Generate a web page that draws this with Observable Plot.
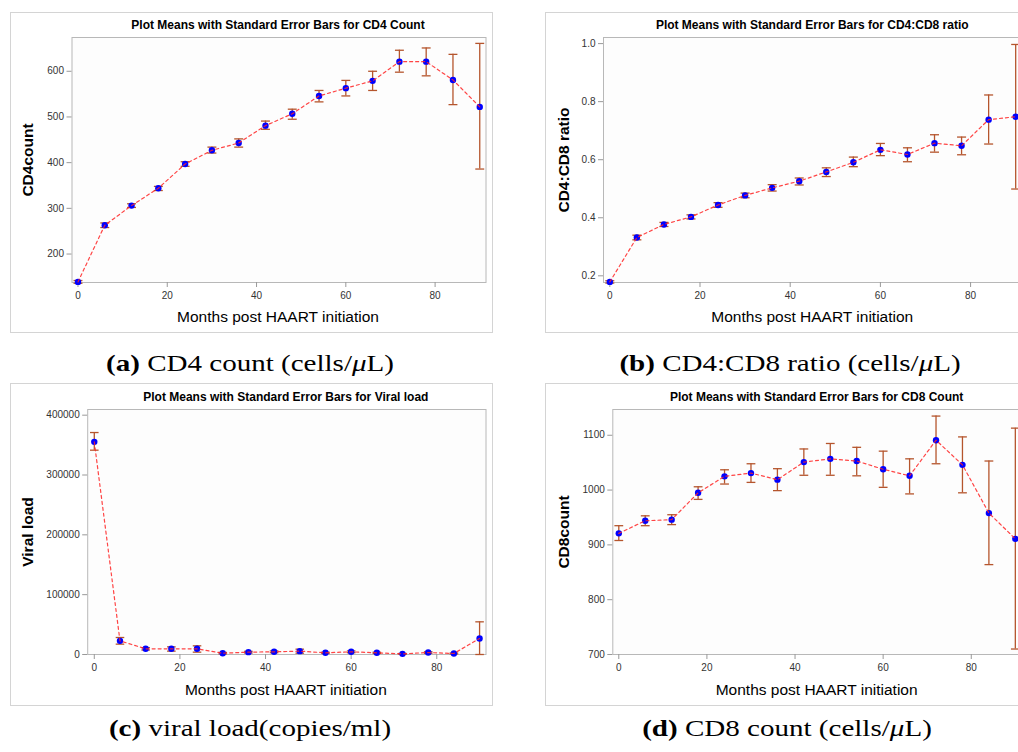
<!DOCTYPE html>
<html><head><meta charset="utf-8">
<script src="https://cdn.jsdelivr.net/npm/d3@7"></script>
<script src="https://cdn.jsdelivr.net/npm/@observablehq/plot@0.6"></script>
<style>
html,body{margin:0;padding:0;background:#fff;}
#root{position:relative;width:1018px;height:752px;overflow:hidden;background:#fff;}
.box{position:absolute;border:1px solid #d4d4d4;box-sizing:border-box;background:#fff;}
.plot{position:absolute;}
.title{position:absolute;width:500px;font:bold 12px/12px "Liberation Sans",Arial,sans-serif;color:#000;text-align:center;white-space:nowrap;}
.xlab{position:absolute;width:400px;font:15.5px/15.5px "Liberation Sans",Arial,sans-serif;color:#000;text-align:center;white-space:nowrap;}
.ylab{position:absolute;font:bold 15.5px/15.5px "Liberation Sans",Arial,sans-serif;color:#000;white-space:nowrap;transform:translate(-50%,-50%) rotate(-90deg);}
.cap{position:absolute;font:24px/24px "Liberation Serif",serif;color:#000;white-space:nowrap;transform:translateX(-50%) scaleX(1.21);}
</style>
</head><body><div id="root"></div>
<script>
// ---- data ----
const months = [0,6,12,18,24,30,36,42,48,54,60,66,72,78,84,90];
const xTicks = [0,20,40,60,80];

const cd4Mean = [139,263,306,344,397,427,443,481,507,546,563,579,621,621,581,522];
const cd4Lo   = [136,258,302,339,392,421,434,473,495,533,546,558,598,590,527,386];
const cd4Hi   = [142,268,310,348,402,434,452,491,517,558,580,600,646,651,637,661];
const cd4Ticks = [200,300,400,500,600];

const ratioMean = [0.179,0.332,0.377,0.403,0.444,0.477,0.503,0.526,0.558,0.591,0.634,0.618,0.657,0.648,0.738,0.748];
const ratioLo   = [0.175,0.324,0.370,0.396,0.436,0.469,0.492,0.513,0.542,0.576,0.614,0.593,0.626,0.617,0.654,0.499];
const ratioHi   = [0.183,0.340,0.384,0.410,0.452,0.485,0.514,0.537,0.572,0.609,0.656,0.641,0.686,0.678,0.823,0.997];
const ratioTicks = [0.2,0.4,0.6,0.8,1.0];

const vlMean = [355400,22800,9500,9500,9500,2200,3900,4500,5600,2800,4500,2800,1100,3300,1700,26700];
const vlLo   = [341500,17300,7500,5600,3900,1000,2500,3000,2200,1800,3000,1800,500,2000,900,0];
const vlHi   = [371000,28400,11500,12800,14500,3400,5300,6000,8900,3800,6000,3800,1700,4600,2500,54600];
const vlTicks = [0,100000,200000,300000,400000];

const cd8Mean = [921,944,946,995,1025,1031,1019,1051,1057,1053,1038,1026,1091,1046,958,911];
const cd8Lo   = [908,935,937,983,1011,1014,999,1027,1027,1026,1005,993,1048,995,864,710];
const cd8Hi   = [935,953,955,1006,1037,1048,1039,1075,1085,1078,1071,1057,1135,1097,1053,1113];
const cd8Ticks = [700,800,900,1000,1100];

const titles = [
  "Plot Means with Standard Error Bars for CD4 Count",
  "Plot Means with Standard Error Bars for CD4:CD8 ratio",
  "Plot Means with Standard Error Bars for Viral load",
  "Plot Means with Standard Error Bars for CD8 Count"
];
const yLabels = ["CD4count","CD4:CD8 ratio","Viral load","CD8count"];
const xLabel = "Months post HAART initiation";
const captionTags = ["(a)","(b)","(c)","(d)"];
const captionTexts = [
  " CD4 count (cells/<i>μ</i>L)",
  " CD4:CD8 ratio (cells/<i>μ</i>L)",
  " viral load(copies/ml)",
  " CD8 count (cells/<i>μ</i>L)"
];

// ---- layout ----
const panels = [
  {left:9.5, top:12, w:483.5, h:321, ml:61.5, mr:8, mt:25, mb:51, xdom:[-1.34,91.4], ydom:[137.7,673.9],
   mean:cd4Mean, lo:cd4Lo, hi:cd4Hi, ticks:cd4Ticks, fmt:d3.format("d"),
   titleY:19.3, xlabY:308.6, ylabX:28, capX:250, capY:351},
  {left:545, top:12, w:483.5, h:321, ml:58, mr:7, mt:25, mb:51, xdom:[-1.4,91.4], ydom:[0.177,1.021],
   mean:ratioMean, lo:ratioLo, hi:ratioHi, ticks:ratioTicks, fmt:d3.format(".1f"),
   titleY:19.3, xlabY:308.6, ylabX:564, capX:790, capY:351},
  {left:9.5, top:383.3, w:483.5, h:323, ml:77.2, mr:8, mt:26, mb:52, xdom:[-1.54,91.5], ydom:[0,409500],
   mean:vlMean, lo:vlLo, hi:vlHi, ticks:vlTicks, fmt:d3.format("d"),
   titleY:391.3, xlabY:681.9, ylabX:28, capX:250, capY:716},
  {left:545, top:383.3, w:483.5, h:323, ml:67.3, mr:7.5, mt:26, mb:52, xdom:[-1.36,91.4], ydom:[700,1147],
   mean:cd8Mean, lo:cd8Lo, hi:cd8Hi, ticks:cd8Ticks, fmt:d3.format("d"),
   titleY:391.3, xlabY:681.9, ylabX:564, capX:787, capY:716}
];

const root = document.getElementById("root");
const ebColor = "#b5552d";

panels.forEach((p, i) => {
  const rows = months.map((m, k) => ({m, mean: p.mean[k], lo: p.lo[k], hi: p.hi[k]}));
  const box = document.createElement("div");
  box.className = "box";
  Object.assign(box.style, {left: p.left + "px", top: p.top + "px", width: p.w + "px", height: p.h + "px"});
  root.appendChild(box);

  const chart = Plot.plot({
    width: p.w, height: p.h,
    marginLeft: p.ml, marginRight: p.mr, marginTop: p.mt, marginBottom: p.mb,
    x: {domain: p.xdom},
    y: {domain: p.ydom},
    style: {fontFamily: "Liberation Sans, Arial, sans-serif", fontSize: "10px", background: "transparent", overflow: "visible"},
    marks: [
      Plot.frame({fill: "#fdfdfd", stroke: "#b8b8b8"}),
      Plot.axisX({ticks: xTicks, tickSize: 5, tickPadding: 4, label: null, stroke: "#999", fill: "#333"}),
      Plot.axisY({ticks: p.ticks, tickSize: 5, tickPadding: 3, label: null, tickFormat: p.fmt, stroke: "#999", fill: "#333"}),
      Plot.ruleX(rows, {x: "m", y1: "lo", y2: "hi", stroke: ebColor, strokeWidth: 1.3}),
      Plot.link(rows, {x1: d => d.m - 1, x2: d => d.m + 1, y1: "hi", y2: "hi", stroke: ebColor, strokeWidth: 1.3}),
      Plot.link(rows, {x1: d => d.m - 1, x2: d => d.m + 1, y1: "lo", y2: "lo", stroke: ebColor, strokeWidth: 1.3}),
      Plot.dot(rows, {x: "m", y: "mean", r: 3.2, fill: "#0000ff"}),
      Plot.line(rows, {x: "m", y: "mean", stroke: "#ff2424", strokeWidth: 1.2, strokeDasharray: "3,3", strokeOpacity: 0.85})
    ]
  });
  chart.classList.add("plot");
  chart.style.left = p.left + "px";
  chart.style.top = p.top + "px";
  root.appendChild(chart);

  const frameCx = p.left + p.ml + (p.w - p.ml - p.mr) / 2;
  const frameCy = p.top + p.mt + (p.h - p.mt - p.mb) / 2;

  const t = document.createElement("div");
  t.className = "title";
  t.textContent = titles[i];
  Object.assign(t.style, {left: (frameCx - 250) + "px", top: p.titleY + "px"});
  root.appendChild(t);

  const xl = document.createElement("div");
  xl.className = "xlab";
  xl.textContent = xLabel;
  Object.assign(xl.style, {left: (frameCx - 200) + "px", top: p.xlabY + "px"});
  root.appendChild(xl);

  const yl = document.createElement("div");
  yl.className = "ylab";
  yl.textContent = yLabels[i];
  Object.assign(yl.style, {left: p.ylabX + "px", top: frameCy + "px"});
  root.appendChild(yl);

  const c = document.createElement("div");
  c.className = "cap";
  c.innerHTML = "<b>" + captionTags[i] + "</b>" + captionTexts[i];
  Object.assign(c.style, {left: p.capX + "px", top: p.capY + "px"});
  root.appendChild(c);
});
</script>
</body></html>
